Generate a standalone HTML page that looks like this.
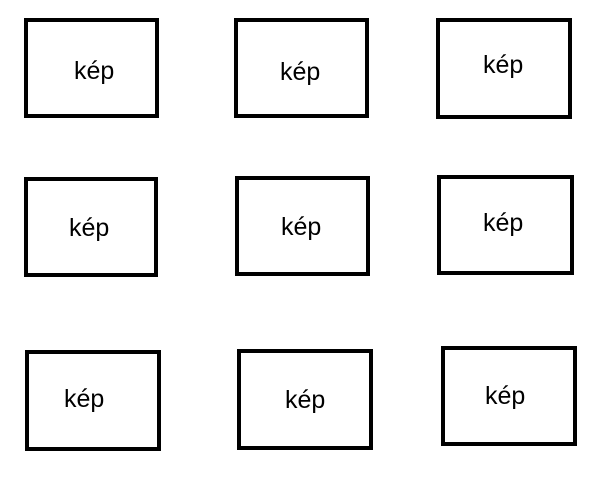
<!DOCTYPE html>
<html><head><meta charset="utf-8"><style>
body{margin:0;width:603px;height:479px;background:#fff;position:relative;overflow:hidden;font-family:"Liberation Sans",sans-serif}
.b{position:absolute;border:4px solid #000;box-sizing:border-box}
.t{position:absolute;font-size:25px;line-height:28px;color:#000;white-space:nowrap}
</style></head><body>
<div class="b" style="left:24px;top:18px;width:135px;height:100px"></div>
<div class="t" style="left:74px;top:57px">kép</div>
<div class="b" style="left:234px;top:18px;width:135px;height:100px"></div>
<div class="t" style="left:280px;top:58px">kép</div>
<div class="b" style="left:436px;top:18px;width:136px;height:101px"></div>
<div class="t" style="left:483px;top:51px">kép</div>
<div class="b" style="left:24px;top:177px;width:134px;height:100px"></div>
<div class="t" style="left:69px;top:214px">kép</div>
<div class="b" style="left:235px;top:176px;width:135px;height:100px"></div>
<div class="t" style="left:281px;top:213px">kép</div>
<div class="b" style="left:437px;top:175px;width:137px;height:100px"></div>
<div class="t" style="left:483px;top:209px">kép</div>
<div class="b" style="left:25px;top:350px;width:136px;height:101px"></div>
<div class="t" style="left:64px;top:385px">kép</div>
<div class="b" style="left:237px;top:349px;width:136px;height:101px"></div>
<div class="t" style="left:285px;top:386px">kép</div>
<div class="b" style="left:441px;top:346px;width:136px;height:100px"></div>
<div class="t" style="left:485px;top:382px">kép</div>
</body></html>
